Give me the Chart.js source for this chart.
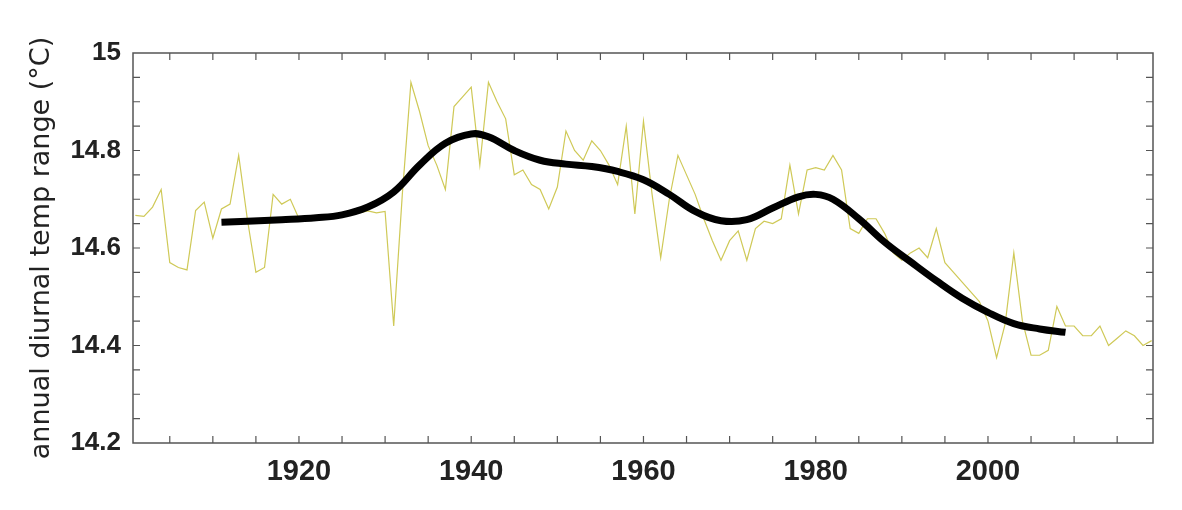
<!DOCTYPE html>
<html>
<head>
<meta charset="utf-8">
<script src="https://cdn.jsdelivr.net/npm/chart.js"></script>
<style>
  html, body { margin: 0; padding: 0; background: #fff; }
  #wrap { width: 1182px; height: 510px; }
</style>
</head>
<body>
<div id="wrap"><canvas id="dtrChart" width="1182" height="510"></canvas></div>
<script>
// annual series, one value per year
const years = [
  1901, 1902, 1903, 1904, 1905, 1906, 1907, 1908, 1909, 1910,
  1911, 1912, 1913, 1914, 1915, 1916, 1917, 1918, 1919, 1920,
  1921, 1922, 1923, 1924, 1925, 1926, 1927, 1928, 1929, 1930,
  1931, 1932, 1933, 1934, 1935, 1936, 1937, 1938, 1939, 1940,
  1941, 1942, 1943, 1944, 1945, 1946, 1947, 1948, 1949, 1950,
  1951, 1952, 1953, 1954, 1955, 1956, 1957, 1958, 1959, 1960,
  1961, 1962, 1963, 1964, 1965, 1966, 1967, 1968, 1969, 1970,
  1971, 1972, 1973, 1974, 1975, 1976, 1977, 1978, 1979, 1980,
  1981, 1982, 1983, 1984, 1985, 1986, 1987, 1988, 1989, 1990,
  1991, 1992, 1993, 1994, 1995, 1996, 1997, 1998, 1999, 2000,
  2001, 2002, 2003, 2004, 2005, 2006, 2007, 2008, 2009, 2010,
  2011, 2012, 2013, 2014, 2015, 2016, 2017, 2018, 2019
];
const annualRange = [
  14.667, 14.665, 14.684, 14.72, 14.57, 14.56, 14.555, 14.677, 14.694, 14.62,
  14.68, 14.69, 14.79, 14.66, 14.55, 14.56, 14.71, 14.69, 14.70, 14.66,
  14.658, 14.66, 14.661, 14.663, 14.666, 14.668, 14.672, 14.676, 14.672, 14.675,
  14.44, 14.71, 14.94, 14.88, 14.81, 14.77, 14.72, 14.89, 14.91, 14.93,
  14.77, 14.94, 14.90, 14.865, 14.75, 14.76, 14.73, 14.72, 14.68, 14.725,
  14.84, 14.80, 14.78, 14.82, 14.80, 14.77, 14.73, 14.85, 14.67, 14.86,
  14.71, 14.58, 14.70, 14.79, 14.75, 14.71, 14.66, 14.615, 14.575, 14.615,
  14.635, 14.575, 14.64, 14.655, 14.65, 14.66, 14.77, 14.67, 14.76, 14.765,
  14.76, 14.79, 14.76, 14.64, 14.63, 14.66, 14.66, 14.63, 14.59, 14.575,
  14.59, 14.60, 14.58, 14.64, 14.57, 14.55, 14.53, 14.51, 14.49, 14.45,
  14.375, 14.445, 14.59, 14.45, 14.38, 14.38, 14.39, 14.48, 14.44, 14.44,
  14.42, 14.42, 14.44, 14.40, 14.415, 14.43, 14.42, 14.40, 14.41
];

// smoothed curve
const smoothYears = [
  1911, 1914, 1918, 1922, 1925, 1928, 1931, 1934, 1937, 1940, 1942, 1945,
  1948, 1951, 1954, 1957, 1960, 1963, 1966, 1969, 1972, 1975, 1978, 1980,
  1982, 1985, 1988, 1991, 1994, 1997, 2000, 2003, 2006, 2009
];
const smoothRange = [
  14.653, 14.655, 14.658, 14.662, 14.668, 14.684, 14.715, 14.77, 14.815, 14.834, 14.828, 14.80,
  14.78, 14.772, 14.767, 14.757, 14.74, 14.71, 14.675, 14.656, 14.658, 14.682, 14.705, 14.71,
  14.70, 14.66, 14.612, 14.572, 14.533, 14.497, 14.468, 14.445, 14.434, 14.427
];

const xLabels = [1920, 1940, 1960, 1980, 2000];
const yLabels = [14.2, 14.4, 14.6, 14.8, 15];

const frameColor = '#555';

// boxed frame with inward tick marks on all four sides
const framePlugin = {
  id: 'frame',
  afterDraw(chart) {
    const { ctx, chartArea: a, scales: { x, y } } = chart;
    ctx.save();
    ctx.strokeStyle = frameColor;
    ctx.lineWidth = 1.5;
    ctx.strokeRect(a.left, a.top, a.right - a.left, a.bottom - a.top);
    ctx.lineWidth = 1.2;
    ctx.beginPath();
    for (let v = 1905; v <= 2015; v += 5) {
      const px = x.getPixelForValue(v);
      ctx.moveTo(px, a.bottom); ctx.lineTo(px, a.bottom - 7);
      ctx.moveTo(px, a.top); ctx.lineTo(px, a.top + 7);
    }
    for (let k = 1; k < 16; k++) {
      const py = y.getPixelForValue(14.2 + k * 0.05);
      ctx.moveTo(a.left, py); ctx.lineTo(a.left + 7, py);
      ctx.moveTo(a.right, py); ctx.lineTo(a.right - 7, py);
    }
    ctx.stroke();
    ctx.restore();
  }
};

new Chart(document.getElementById('dtrChart'), {
  type: 'line',
  data: {
    datasets: [
      { label: 'smoothed', data: smoothYears.map((yr, i) => ({ x: yr, y: smoothRange[i] })),
        borderColor: '#000', borderWidth: 7, tension: 0.4, pointRadius: 0, borderCapStyle: 'butt' },
      { label: 'annual', data: years.map((yr, i) => ({ x: yr, y: annualRange[i] })),
        borderColor: '#cfc957', borderWidth: 1.2, tension: 0, pointRadius: 0 },
    ]
  },
  options: {
    responsive: false,
    animation: false,
    layout: { padding: { top: 53, right: 29, left: 0, bottom: 0 } },
    plugins: { legend: { display: false }, tooltip: { enabled: false } },
    scales: {
      x: {
        type: 'linear', min: 1900.73, max: 2019.16,
        grid: { display: false, drawTicks: false }, border: { display: false },
        afterBuildTicks: s => { s.ticks = xLabels.map(v => ({ value: v })); },
        ticks: { padding: 12, color: '#222', maxRotation: 0, autoSkip: false,
                 font: { family: '"Liberation Sans", Arial, sans-serif', size: 29, weight: 'bold' },
                 callback: v => String(v) },
        afterFit: s => { s.height = 67; }
      },
      y: {
        min: 14.2, max: 15,
        grid: { display: false, drawTicks: false }, border: { display: false },
        afterBuildTicks: s => { s.ticks = yLabels.map(v => ({ value: v })); },
        ticks: { padding: 12, color: '#222',
                 font: { family: '"Liberation Sans", Arial, sans-serif', size: 26, weight: 'bold' },
                 callback: v => String(+v.toFixed(1)) },
        title: { display: true, text: 'annual diurnal temp range (°C)', color: '#222',
                 padding: { top: 26, bottom: 0 },
                 font: { family: '"DejaVu Sans", sans-serif', size: 27 } },
        afterFit: s => { s.width = 133; }
      }
    }
  },
  plugins: [framePlugin]
});
</script>
</body>
</html>
